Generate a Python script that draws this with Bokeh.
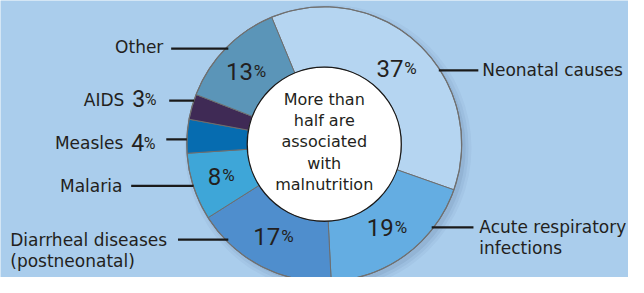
import math
from bokeh.plotting import figure
from bokeh.models import Range1d
from bokeh.core.properties import value
from bokeh.embed import file_html
from bokeh.resources import INLINE

# ---- data ----
causes = ["Neonatal causes", "Acute respiratory infections", "Diarrheal diseases (postneonatal)",
          "Malaria", "Measles", "AIDS", "Other"]
shares = [37, 19, 17, 8, 4, 3, 13]
colors = ["#b5d5f1", "#64ade2", "#4f8ecd", "#3ea6d8", "#066cb0", "#3f2a55", "#5b95b8"]
center_lines = ["More than", "half are", "associated", "with", "malnutrition"]

# ---- layout (reference pixel space, y downward) ----
W, H = 644, 293
BG = "#aacdec"
CX, CY = 332, 152
R_OUT, R_IN = 141, 79
START_DEG = 112.5  # math angle where first slice starts, going clockwise
FONT = "DejaVu Sans"
NUMFONT = "Roboto"
DARK = "#231f20"

def Y(yref):
    return H - yref

p = figure(width=W - 16, height=H - 16, output_backend="svg", toolbar_location=None,
           x_range=Range1d(0, W), y_range=Range1d(0, H),
           min_border=0, border_fill_color=BG, background_fill_color=BG, outline_line_color=None)
p.axis.visible = False
p.grid.visible = False

# shadow
for k, a in [(9, 0.04), (6, 0.05), (3, 0.07)]:
    p.circle(x=[CX + 4], y=[Y(CY + 4)], radius=R_OUT + k - 3, fill_color="#1d3c5c",
             fill_alpha=a, line_color=None)

total = float(sum(shares))
starts, ends, mids = [], [], []
cum = 0.0
for s in shares:
    a0 = START_DEG - cum / total * 360.0
    a1 = a0 - s / total * 360.0
    starts.append(math.radians(a0))
    ends.append(math.radians(a1))
    mids.append(math.radians((a0 + a1) / 2))
    cum += s

p.annular_wedge(x=CX, y=Y(CY), inner_radius=R_IN, outer_radius=R_OUT,
                start_angle=starts, end_angle=ends, direction="clock",
                fill_color=colors, line_color="#6e6e6e", line_width=1)
p.circle(x=[CX], y=[Y(CY)], radius=R_OUT, fill_color=None, line_color="#707070", line_width=1.2)
p.circle(x=[CX], y=[Y(CY)], radius=R_IN, fill_color="white", line_color="#1a1a1a", line_width=1.3)

# center text
for i, t in enumerate(center_lines):
    p.text(x=[CX], y=[Y(105 + i * 22.3)], text=[t], text_align="center", text_baseline="middle",
           text_font=value(FONT), text_font_size=value("16px"), text_color=DARK)

# inside percentage labels
RM = (R_IN + R_OUT) / 2
inside = [0, 1, 2, 3, 6]
for i in inside:
    xm = CX + RM * math.cos(mids[i])
    ym = Y(CY) + RM * math.sin(mids[i])
    num = str(shares[i])
    wn = 13.0 * len(num)
    wp = 15.0
    edge = xm - (wn + wp) / 2 + wn
    p.text(x=[edge], y=[ym], text=[num], text_align="right", text_baseline="middle",
           text_font=value(NUMFONT), text_font_size=value("24px"), text_color=DARK)
    p.text(x=[edge + 1], y=[ym + 1], text=["%"], text_align="left", text_baseline="middle",
           text_font=value(NUMFONT), text_font_size=value("17px"), text_color=DARK)

def edge_x(yref, side):
    dy = yref - CY
    return CX + side * math.sqrt(R_OUT ** 2 - dy ** 2)

def leader(yref, x_text_end, side):
    xe = edge_x(yref, side)
    p.line(x=[x_text_end, xe], y=[Y(yref), Y(yref)], line_color="#1a1a1a", line_width=2.2)

def label(x, yref, txt, align):
    p.text(x=[x], y=[Y(yref)], text=[txt], text_align=align, text_baseline="middle",
           text_font=value(FONT), text_font_size=value("17px"), text_color=DARK)

# right side
label(494, 74, causes[0], "left")
leader(74, 490, 1)
label(491, 240, "Acute respiratory", "left")
label(491, 262, "infections", "left")
leader(240, 485, 1)

# left side
label(167, 49, causes[6], "right")
leader(51, 175, -1)
label(10, 253, "Diarrheal diseases", "left")
label(10, 276, "(postneonatal)", "left")
leader(253, 182, -1)
label(125, 196, causes[3], "right")
leader(196, 134, -1)

for idx, yref, xend, xline in [(5, 105, 127, 173), (4, 151, 126, 170)]:
    label(xend, yref, causes[idx], "right")
    p.text(x=[xend + 8], y=[Y(yref - 1)], text=[str(shares[idx])], text_align="left",
           text_baseline="middle", text_font=value(NUMFONT), text_font_size=value("23px"), text_color=DARK)
    p.text(x=[xend + 21], y=[Y(yref)], text=["%"], text_align="left",
           text_baseline="middle", text_font=value(NUMFONT), text_font_size=value("16px"), text_color=DARK)
    leader(yref + 1 if idx == 5 else yref - 4, xline, -1)

open("out.html", "w").write(file_html(p, INLINE))
